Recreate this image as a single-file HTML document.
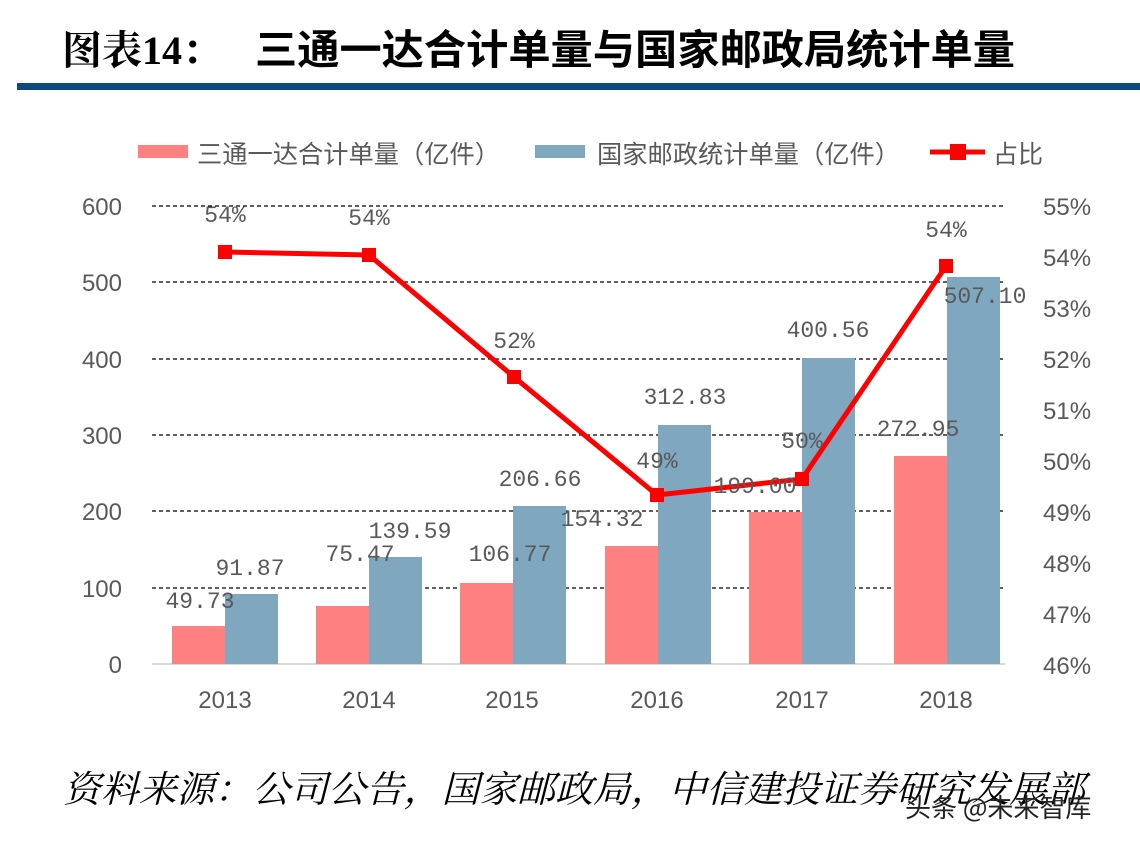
<!DOCTYPE html>
<html><head><meta charset="utf-8"><style>
body{margin:0;background:#fff;}
svg{display:block}
</style></head><body>
<svg width="1140" height="844" xmlns="http://www.w3.org/2000/svg" font-family="Liberation Sans, Noto Sans CJK SC, sans-serif">
<text x="62" y="64" font-size="40" font-weight="bold" fill="#000" font-family="Liberation Serif, Noto Serif CJK SC, serif">图表14：</text>
<text x="255" y="64" font-size="41" font-weight="bold" fill="#000" font-family="Noto Sans CJK SC, sans-serif" textLength="760" lengthAdjust="spacingAndGlyphs">三通一达合计单量与国家邮政局统计单量</text>
<rect x="17" y="83" width="1123" height="7" fill="#0e4a7d"/>
<!-- legend -->
<rect x="138" y="145" width="50" height="13" fill="#ff8080"/>
<text x="197" y="163" font-size="25" fill="#595959" textLength="303" lengthAdjust="spacingAndGlyphs">三通一达合计单量（亿件）</text>
<rect x="535" y="145" width="50" height="13" fill="#7fa7bf"/>
<text x="597" y="163" font-size="25" fill="#595959" textLength="303" lengthAdjust="spacingAndGlyphs">国家邮政统计单量（亿件）</text>
<line x1="930" y1="152" x2="985" y2="152" stroke="#ff0000" stroke-width="5"/>
<rect x="950" y="144" width="16" height="16" fill="#ff0000"/>
<text x="993" y="163" font-size="25" fill="#595959">占比</text>
<!-- grid -->
<g stroke="#000" stroke-width="1.3" stroke-dasharray="4,3">
<line x1="152" y1="206" x2="1005" y2="206"/>
<line x1="152" y1="282" x2="1005" y2="282"/>
<line x1="152" y1="359" x2="1005" y2="359"/>
<line x1="152" y1="435" x2="1005" y2="435"/>
<line x1="152" y1="511" x2="1005" y2="511"/>
<line x1="152" y1="588" x2="1005" y2="588"/>
</g>
<line x1="152" y1="664" x2="1005" y2="664" stroke="#d9d9d9" stroke-width="2"/>
<g font-size="24" fill="#595959" text-anchor="end">
<text x="122" y="215">600</text><text x="122" y="291">500</text><text x="122" y="368">400</text>
<text x="122" y="444">300</text><text x="122" y="520">200</text><text x="122" y="597">100</text><text x="122" y="673">0</text>
</g>
<g font-size="24" fill="#595959">
<text x="1043" y="215">55%</text><text x="1043" y="266">54%</text><text x="1043" y="317">53%</text>
<text x="1043" y="368">52%</text><text x="1043" y="419">51%</text><text x="1043" y="470">50%</text>
<text x="1043" y="521">49%</text><text x="1043" y="572">48%</text><text x="1043" y="623">47%</text><text x="1043" y="674">46%</text>
</g>
<g font-size="24" fill="#595959" text-anchor="middle">
<text x="225" y="708">2013</text><text x="369" y="708">2014</text><text x="512" y="708">2015</text>
<text x="657" y="708">2016</text><text x="802" y="708">2017</text><text x="946" y="708">2018</text>
</g>
<!-- bars -->
<g fill="#ff8080">
<rect x="172" y="626" width="53" height="38"/>
<rect x="316" y="606" width="53" height="58"/>
<rect x="460" y="583" width="53" height="81"/>
<rect x="605" y="546" width="53" height="118"/>
<rect x="749" y="512" width="53" height="152"/>
<rect x="894" y="456" width="53" height="208"/>
</g>
<g fill="#7fa7bf">
<rect x="225" y="594" width="53" height="70"/>
<rect x="369" y="557" width="53" height="107"/>
<rect x="513" y="506" width="53" height="158"/>
<rect x="658" y="425" width="53" height="239"/>
<rect x="802" y="358" width="53" height="306"/>
<rect x="947" y="277" width="53" height="387"/>
</g>
<!-- line -->
<polyline points="225,252 369,255 514,377 657,495 802,479 946,266" fill="none" stroke="#ff0000" stroke-width="5"/>
<g fill="#ff0000">
<rect x="218" y="245" width="14" height="14"/><rect x="362" y="248" width="14" height="14"/>
<rect x="507" y="370" width="14" height="14"/><rect x="650" y="488" width="14" height="14"/>
<rect x="795" y="472" width="14" height="14"/><rect x="939" y="259" width="14" height="14"/>
</g>
<!-- data labels -->
<g font-size="23" fill="#595959" text-anchor="middle" font-family="Liberation Mono, Noto Sans CJK SC, monospace">
<text x="200" y="608">49.73</text><text x="250" y="575">91.87</text>
<text x="360" y="561">75.47</text><text x="410" y="538">139.59</text>
<text x="510" y="561">106.77</text><text x="540" y="486">206.66</text>
<text x="602" y="526">154.32</text><text x="685" y="404">312.83</text>
<text x="755" y="493">199.00</text><text x="828" y="337">400.56</text>
<text x="918" y="436">272.95</text><text x="985" y="303">507.10</text>
<text x="225" y="222">54%</text><text x="369" y="225">54%</text><text x="514" y="348">52%</text>
<text x="657" y="468">49%</text><text x="802" y="448">50%</text><text x="946" y="237">54%</text>
</g>
<text x="63" y="802" font-size="37" font-style="italic" fill="#000" font-family="Noto Serif CJK SC, serif" textLength="1022" lengthAdjust="spacingAndGlyphs">资料来源：公司公告，国家邮政局，中信建投证券研究发展部</text>
<text x="905" y="817" font-size="26" fill="#222" font-family="Noto Sans CJK SC, sans-serif">头条 @未来智库</text>
</svg>
</body></html>
